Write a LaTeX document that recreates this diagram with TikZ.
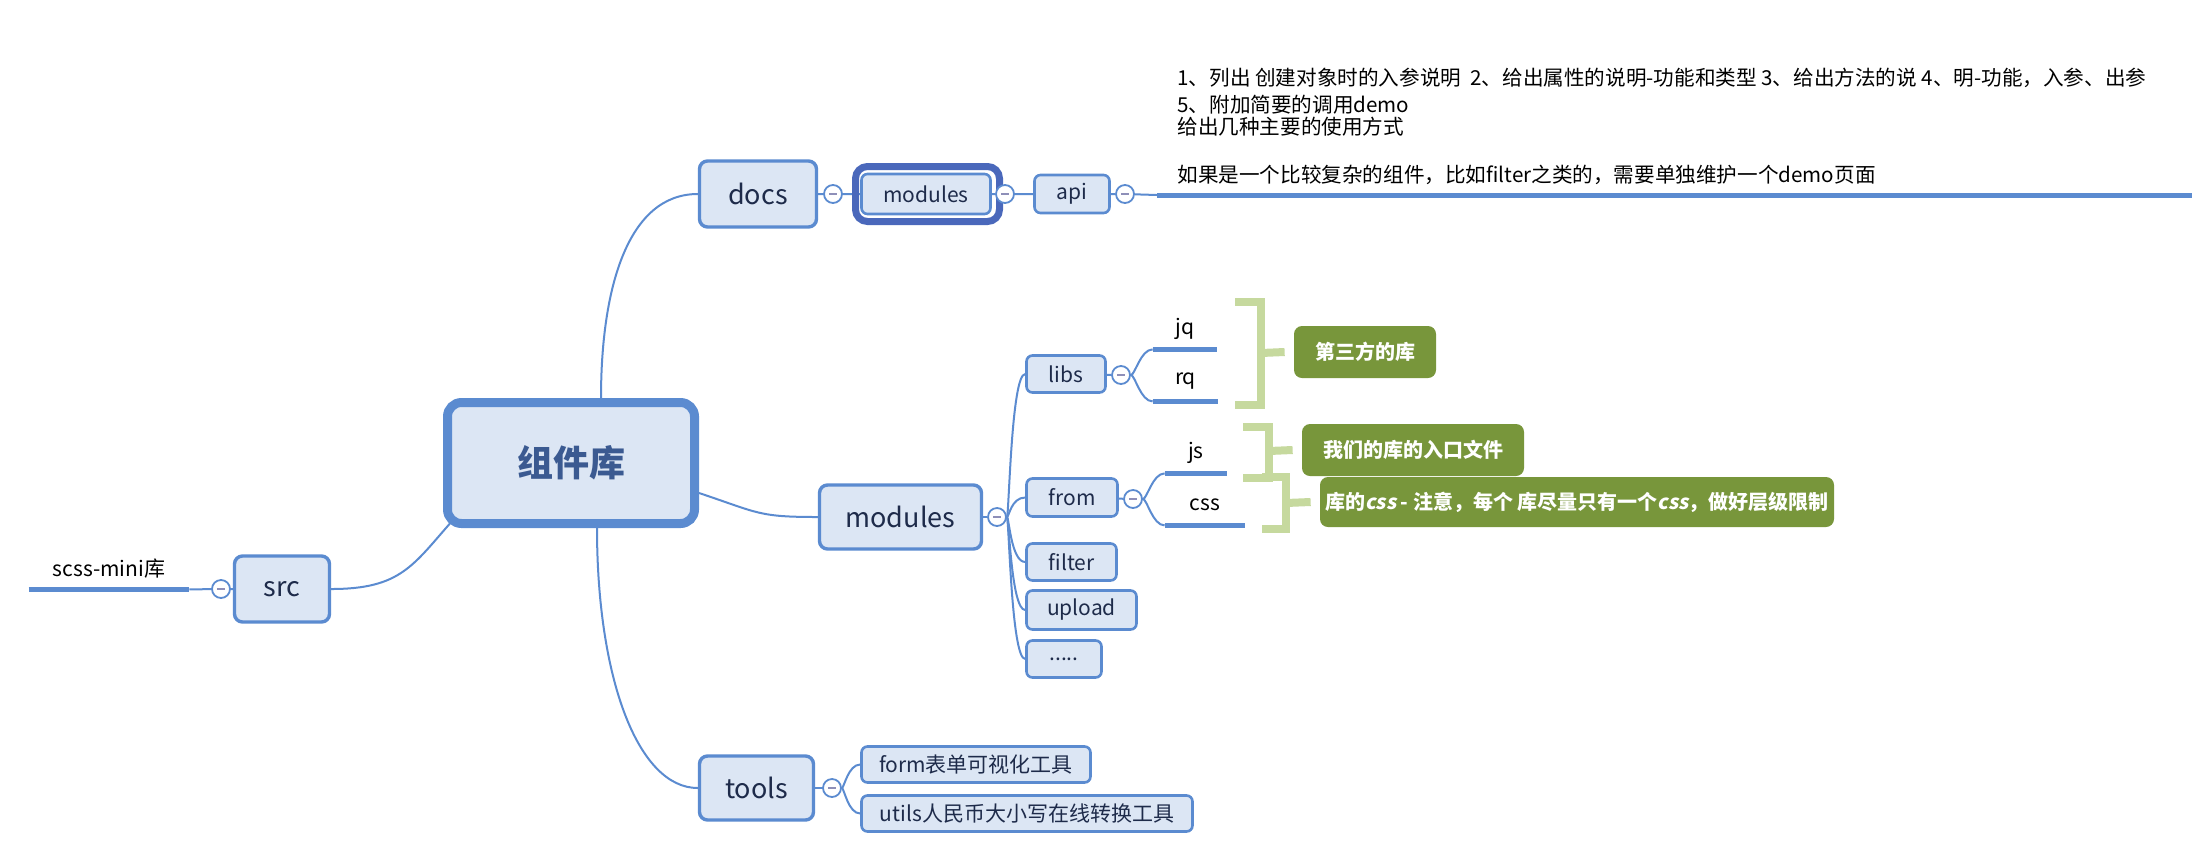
\documentclass[tikz,border=0pt]{standalone}
\usepackage{fontspec}
\setmainfont{Noto Sans CJK SC}
\newfontfamily\slantcjk{Noto Sans CJK SC}[FakeSlant=0.2]
\usetikzlibrary{calc,backgrounds}

\definecolor{linkblue}{HTML}{5B8BD0}
\definecolor{boxfill}{HTML}{DCE6F4}
\definecolor{boxtext}{HTML}{1E2B4A}
\definecolor{roottext}{HTML}{3B5A91}
\definecolor{selring}{HTML}{4A68BB}
\definecolor{notegreen}{HTML}{78963B}
\definecolor{bracegreen}{HTML}{C6D99E}
\definecolor{foldminus}{HTML}{8E8FB8}

\tikzset{
  topic/.style={draw=linkblue, fill=boxfill, rounded corners=4pt, line width=1.7pt,
    text=boxtext, font=\fontsize{13.5}{16}\selectfont, inner sep=0pt},
  subtopic/.style={draw=linkblue, fill=boxfill, rounded corners=3pt, line width=1.3pt,
    text=boxtext, font=\fontsize{10.5}{12}\selectfont, inner sep=0pt, minimum height=19pt},
  leaf/.style={inner sep=0pt, minimum height=20pt, font=\fontsize{10.5}{12}\selectfont},
  leafline/.style={linkblue, line width=2.5pt},
  conn/.style={linkblue, line width=1pt},
  fold/.style={circle, draw=linkblue, fill=white, line width=0.9pt, minimum size=9pt, inner sep=0pt,
    path picture={\draw[foldminus, line width=0.8pt]
      ([xshift=-2pt]path picture bounding box.center) -- ([xshift=2pt]path picture bounding box.center);}},
  note/.style={fill=notegreen, rounded corners=4pt, text=white, font=\fontsize{10}{12}\selectfont\bfseries,
    inner sep=0pt, minimum height=26pt},
  brace/.style={bracegreen, line width=4pt},
}

\begin{document}
\begin{tikzpicture}[x=0.5pt, y=-0.5pt]
  \useasboundingbox (0,0) rectangle (2204,842);

  \node[topic, line width=4.5pt, rounded corners=7pt, minimum width=123.5pt, minimum height=60.5pt,
    text=roottext, font=\fontsize{18}{20}\selectfont\bfseries] (root) at (571,463) {组件库};

  \node[topic, minimum width=58.5pt, minimum height=33pt] (docs) at (758,194) {docs};
  \node[topic, minimum width=81pt, minimum height=32pt] (mods) at (900.5,517) {modules};
  \node[topic, minimum width=47.5pt, minimum height=33pt] (src) at (282,589) {src};
  \node[topic, minimum width=57pt, minimum height=32pt] (tools) at (756.5,788) {tools};

  % src side
  \node[fold] (fsrc) at (221,589) {};
  \node[leaf, minimum width=80pt] (scss) at (109,569) {scss-mini库};
  \draw[leafline] (scss.south west) -- (scss.south east);

  % docs branch
  \node[fold] (fdocs) at (833,194) {};
  \node[subtopic, minimum width=64.5pt, minimum height=20pt] (dmods) at (926,194) {modules};
  \node[draw=selring, line width=3.5pt, rounded corners=6pt, minimum width=72pt, minimum height=27.5pt] (dsel) at (927.5,194) {};
  \node[fold] (fdmods) at (1005,194) {};
  \node[subtopic, minimum width=37.5pt] (api) at (1072,194) {api};
  \node[fold] (fapi) at (1125,194) {};
  \node[anchor=south west, align=left, inner xsep=10pt, inner ysep=5pt, font=\fontsize{10.3}{11}\selectfont] (apinote) at (1157,195)
    {1、列出 创建对象时的入参说明\ \ 2、给出属性的说明-功能和类型 3、给出方法的说 4、明-功能，入参、出参\\[2.5pt]
     5、附加简要的调用demo\\
     给出几种主要的使用方式\\[13pt]
     如果是一个比较复杂的组件，比如filter之类的，需要单独维护一个demo页面};
  \coordinate (apiend) at (2192,195);
  \draw[leafline] (apinote.south west) -- (apiend);

  % modules branch
  \node[fold] (fmods) at (997,517) {};
  \node[subtopic, minimum width=39.5pt, minimum height=18.5pt] (libs) at (1066,374) {libs};
  \node[subtopic, minimum width=45.5pt] (from) at (1072,497.5) {from};
  \node[subtopic, minimum width=45pt, minimum height=18.5pt] (filter) at (1071.5,562) {filter};
  \node[subtopic, minimum width=55pt, minimum height=19.5pt] (upload) at (1081.5,610) {upload};
  \node[subtopic, minimum width=37.5pt, minimum height=18.5pt] (more) at (1064,659) {.....};

  \node[fold] (flibs) at (1121,375) {};
  \node[leaf, minimum width=32pt] (jq) at (1185,329) {jq};
  \node[leaf, minimum width=32.5pt] (rq) at (1185.5,381) {rq};
  \node[fold] (ffrom) at (1133,499) {};
  \node[leaf, minimum width=31pt] (js) at (1196,453) {js};
  \node[leaf, minimum width=40pt] (css) at (1205,505) {css};
  \foreach \l in {jq,rq,js,css}
    \draw[leafline] (\l.south west) -- (\l.south east);

  \draw[brace] (1235,302) -| (1261,405) -- (1235,405);
  \draw[brace] (1243,427) -| (1269,478) -- (1243,478);
  \draw[brace] (1262,477) -| (1286,529) -- (1262,529);
  \node[note, minimum width=71pt] (thirdlib) at (1365,352) {第三方的库};
  \node[note, minimum width=111pt] (entry) at (1413,450) {我们的库的入口文件};
  \node[note, minimum width=257pt, minimum height=25pt] (cssnote) at (1577,502)
    {库的{\slantcjk css} - 注意，每个 库尽量只有一个{\slantcjk css}，做好层级限制};
  \draw[brace] (1261,353) -- ([xshift=-4.5pt]thirdlib.west);
  \draw[brace] (1269,451) -- ([xshift=-4.5pt]entry.west);
  \draw[brace] (1286,503) -- ([xshift=-4.5pt]cssnote.west);

  % tools branch
  \node[fold] (ftools) at (832,788) {};
  \node[subtopic, minimum width=114.5pt, minimum height=18pt] (form) at (976,764.5) {form表单可视化工具};
  \node[subtopic, minimum width=165.5pt, minimum height=18pt] (utils) at (1027,813.5) {utils人民币大小写在线转换工具};

  \begin{scope}[on background layer]
    \draw[conn] ([xshift=15pt]root.north) .. controls +(0,-110) and +(-70,0) .. (docs.west);
    \draw[conn] ([yshift=-15pt]root.east) .. controls +(60,20) and +(-60,0) .. (mods.west);
    \draw[conn] ([xshift=5pt,yshift=4pt]root.south west) .. controls +(-40,45) and +(70,0) .. (src.east);
    \draw[conn] ([xshift=13pt]root.south) .. controls +(0,150) and +(-60,0) .. (tools.west);
    \draw[conn] (src) -- (fsrc) -- (scss.south east);
    \draw[conn] (docs) -- (fdocs) -- (dmods) -- (fdmods) -- (api) -- (fapi) -- (apinote.south west);
    \foreach \c in {libs,from,filter,upload,more}
      \draw[conn] (fmods) .. controls +(12,0) and +(-14,0) .. (\c.west);
    \draw[conn] (mods) -- (fmods);
    \draw[conn] (libs) -- (flibs);
    \draw[conn] (from) -- (ffrom);
    \draw[conn] (tools) -- (ftools);
    \foreach \l in {jq,rq}
      \draw[conn] (flibs) .. controls +(14,0) and +(-12,0) .. (\l.south west);
    \foreach \l in {js,css}
      \draw[conn] (ffrom) .. controls +(14,0) and +(-12,0) .. (\l.south west);
    \foreach \c in {form,utils}
      \draw[conn] (ftools) .. controls +(12,0) and +(-12,0) .. (\c.west);
  \end{scope}
\end{tikzpicture}
\end{document}
